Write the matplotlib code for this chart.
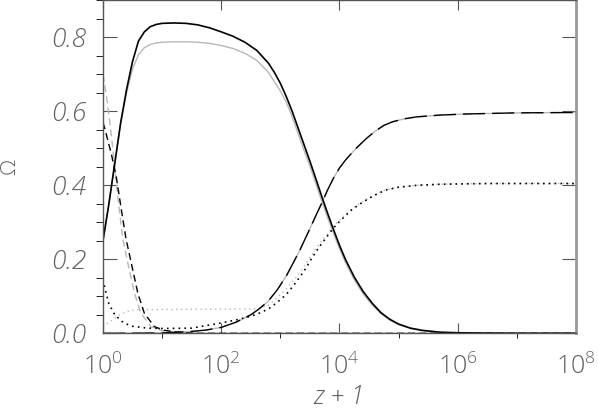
import numpy as np
import matplotlib
matplotlib.use('Agg')
import matplotlib.pyplot as plt
from matplotlib.ticker import MultipleLocator, NullFormatter

# valores: log10(z+1) e Omega de cada componente
lg_solido = [0, 0.1, 0.2, 0.3, 0.4, 0.5, 0.6, 0.7, 0.8, 0.9, 1.0, 1.2, 1.4, 1.6, 1.8, 2.0, 2.2,
             2.4, 2.6, 2.8, 2.9, 3.0, 3.1, 3.2, 3.3, 3.4, 3.5, 3.6, 3.7, 3.8, 3.9, 4.0, 4.1,
             4.25, 4.4, 4.55, 4.7, 4.85, 5.0, 5.2, 5.4, 5.7, 6.0, 6.5, 7.0, 8.0]
om_solido_preto = [0.25, 0.35, 0.46, 0.57, 0.66, 0.735, 0.79, 0.815, 0.829, 0.835, 0.838, 0.839,
                   0.838, 0.834, 0.826, 0.815, 0.803, 0.787, 0.765, 0.73, 0.705, 0.676, 0.64,
                   0.6, 0.555, 0.51, 0.465, 0.418, 0.37, 0.324, 0.28, 0.238, 0.2, 0.152, 0.113,
                   0.082, 0.056, 0.038, 0.025, 0.014, 0.008, 0.003, 0.0015, 0.0005, 0.0, 0.0]
om_solido_cinza = [0.25, 0.35, 0.46, 0.568, 0.65, 0.715, 0.753, 0.772, 0.781, 0.785, 0.787, 0.788,
                   0.788, 0.787, 0.784, 0.778, 0.77, 0.757, 0.738, 0.705, 0.68, 0.655, 0.625,
                   0.585, 0.54, 0.495, 0.452, 0.405, 0.357, 0.312, 0.27, 0.229, 0.192, 0.145,
                   0.107, 0.077, 0.053, 0.036, 0.023, 0.013, 0.007, 0.0025, 0.001, 0.0004, 0.0, 0.0]

lg_longo = [0, 0.5, 1.0, 1.5, 1.75, 2.0, 2.25, 2.5, 2.65, 2.8, 2.95, 3.1, 3.2, 3.33, 3.5, 3.6,
            3.7, 3.8, 3.9, 4.0, 4.1, 4.2, 4.3, 4.45, 4.6, 4.75, 4.9, 5.1, 5.3, 5.7, 6.15, 7.0, 8.0]
om_longo = [0.0, 0.0003, 0.001, 0.005, 0.009, 0.016, 0.03, 0.05, 0.067, 0.088, 0.118, 0.155,
            0.185, 0.225, 0.283, 0.318, 0.352, 0.388, 0.42, 0.447, 0.468, 0.486, 0.503, 0.526,
            0.546, 0.562, 0.572, 0.58, 0.585, 0.59, 0.593, 0.596, 0.597]

lg_pontos = [0, 0.05, 0.1, 0.2, 0.35, 0.5, 0.75, 1.0, 1.5, 2.0, 2.25, 2.5, 2.65, 2.8, 2.95,
             3.1, 3.25, 3.4, 3.52, 3.65, 3.78, 3.9, 4.0, 4.1, 4.2, 4.35, 4.5, 4.65, 4.8, 5.0,
             5.3, 5.7, 6.5, 8.0]
om_pontos = [0.145, 0.11, 0.08, 0.05, 0.028, 0.019, 0.014, 0.013, 0.014, 0.028, 0.036, 0.046,
             0.055, 0.066, 0.084, 0.105, 0.135, 0.168, 0.2, 0.232, 0.26, 0.285, 0.302, 0.318,
             0.333, 0.35, 0.365, 0.378, 0.388, 0.395, 0.4, 0.403, 0.405, 0.405]

lg_pontos_cinza = [0, 0.15, 0.3, 0.45, 0.6, 1.5, 2.6, 2.8, 2.95, 3.1, 3.25, 3.4, 3.52, 3.65,
                   3.78, 3.9, 4.0, 4.1, 4.2, 4.35, 4.5, 4.65, 4.8, 5.0, 5.3, 5.7, 6.5, 8.0]
om_pontos_cinza = [0.018, 0.035, 0.052, 0.061, 0.064, 0.065, 0.066, 0.076, 0.097, 0.12, 0.148,
                   0.18, 0.21, 0.24, 0.266, 0.29, 0.306, 0.321, 0.335, 0.352, 0.366, 0.379,
                   0.389, 0.395, 0.4, 0.403, 0.405, 0.405]

lg_trac = [0, 0.03, 0.14, 0.225, 0.31, 0.39, 0.48, 0.59, 0.70, 0.87, 1.04, 1.3, 1.6, 8.0]
om_trac = [0.57, 0.554, 0.486, 0.423, 0.335, 0.255, 0.189, 0.108, 0.054, 0.018, 0.008, 0.002,
           0.0, 0.0]

lg_trac_cinza = [0, 0.06, 0.12, 0.18, 0.23, 0.28, 0.33, 0.42, 0.53, 0.64, 0.81, 1.0, 1.3, 1.6, 8.0]
om_trac_cinza = [0.70, 0.64, 0.565, 0.48, 0.40, 0.33, 0.26, 0.19, 0.11, 0.055, 0.018, 0.007,
                 0.002, 0.0, 0.0]

xticks = [1e0, 1e2, 1e4, 1e6, 1e8]
xtick_labels = ['$10^0$', '$10^2$', '$10^4$', '$10^6$', '$10^8$']
yticks = [0.0, 0.2, 0.4, 0.6, 0.8]
ytick_labels = ['0.0', '0.2', '0.4', '0.6', '0.8']

CINZA = '#b8b8b8'
TEXTO = '#606060'
FONTE = ['Open Sans', 'DejaVu Sans']


def zz(lg):
    return 10 ** np.array(lg)


plt.rcParams['mathtext.fontset'] = 'custom'
plt.rcParams['mathtext.rm'] = 'Open Sans:light'
plt.rcParams['mathtext.it'] = 'Open Sans:light:italic'

fig = plt.figure(figsize=(5.98, 4.12), dpi=100)
ax = fig.add_axes([0.1722, 0.191, 0.791, 0.808])

# curvas cinzas primeiro, pretas por cima
ax.plot(zz(lg_solido), om_solido_cinza, color=CINZA, lw=1.0)
ax.plot(zz(lg_longo), om_longo, color=CINZA, lw=1.0, linestyle=(10, (16, 5)))
ax.plot(zz(lg_pontos_cinza), om_pontos_cinza, color=CINZA, lw=1.0, linestyle=(0, (1, 2.5)))
ax.plot(zz(lg_trac_cinza), om_trac_cinza, color=CINZA, lw=1.0, linestyle=(0, (5, 3)))

ax.plot(zz(lg_solido), om_solido_preto, color='black', lw=1.2)
ax.plot(zz(lg_longo), om_longo, color='black', lw=1.0, linestyle=(0, (16, 5)))
ax.plot(zz(lg_pontos), om_pontos, color='black', lw=1.2, linestyle=(0, (1, 2.5)))
ax.plot(zz(lg_trac), om_trac, color='black', lw=1.0, linestyle=(0, (5, 3)))

ax.set_xscale('log')
ax.set_xlim(1, 1e8)
ax.set_ylim(0, 0.9)

ax.set_xticks(xticks)
ax.set_xticklabels(xtick_labels, fontsize=18, color=TEXTO)
ax.set_xticks([1e1, 1e3, 1e5, 1e7], minor=True)
ax.xaxis.set_minor_formatter(NullFormatter())
ax.set_yticks(yticks)
ax.set_yticklabels(ytick_labels, fontsize=19, color=TEXTO, family=FONTE,
                   fontstyle='italic', fontweight='light')
ax.yaxis.set_minor_locator(MultipleLocator(0.05))

ax.tick_params(direction='in', top=True, right=True, colors='#555555')
ax.tick_params(axis='x', which='major', length=7, pad=14)
ax.tick_params(axis='x', which='minor', length=3.5)
ax.tick_params(axis='y', which='major', length=10, pad=12)
ax.tick_params(axis='y', which='minor', length=5)
for lab in ax.get_xticklabels() + ax.get_yticklabels():
    lab.set_color(TEXTO)

for s in ax.spines.values():
    s.set_color('#555555')
    s.set_linewidth(1.0)
ax.spines['right'].set_color('#999999')
ax.spines['right'].set_linewidth(2.0)

ax.set_xlabel('z + 1', fontsize=18, family=FONTE, fontstyle='italic', fontweight='light',
              color=TEXTO, labelpad=4)
ax.set_ylabel('Ω', fontsize=15, family=FONTE, fontweight='light', color=TEXTO, labelpad=22)

fig.savefig('out.png', dpi=100)
